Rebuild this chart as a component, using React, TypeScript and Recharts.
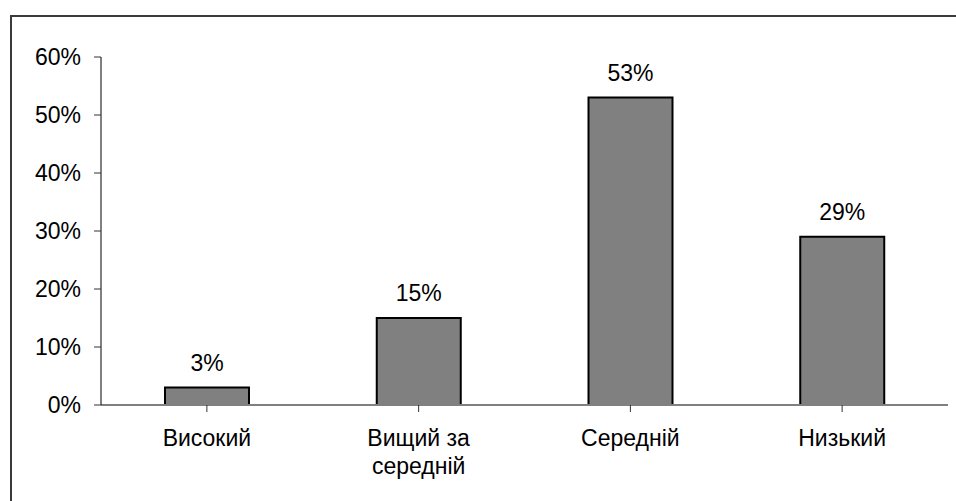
import React from 'react';
import { BarChart, Bar, XAxis, YAxis, LabelList } from 'recharts';

// Levels and their shares, in percent ("\n" marks where a label breaks)
const levels = ['Високий', 'Вищий за\nсередній', 'Середній', 'Низький'];
const shares = [3, 15, 53, 29];
const percentTicks = [0, 10, 20, 30, 40, 50, 60];

const data = levels.map((level, i) => ({ level, share: shares[i] }));

const FONT = '"Liberation Sans", Arial, sans-serif';
const pct = (v: number | string) => `${v}%`;

// Category label, one tspan per line
const CategoryTick = (props: any) => {
  const { x, y, payload } = props;
  const lines = String(payload.value).split('\n');
  return (
    <text
      x={x}
      y={y}
      textAnchor="middle"
      fontFamily={FONT}
      fontSize={23}
      fill="#000"
    >
      {lines.map((line, i) => (
        <tspan key={i} x={x} dy={i === 0 ? '0.71em' : 28}>
          {line}
        </tspan>
      ))}
    </text>
  );
};

export default function App() {
  return (
    <div
      style={{
        position: 'fixed',
        left: 0,
        top: 0,
        width: 956,
        height: 501,
        overflow: 'hidden',
        background: '#fff',
      }}
    >
      {/* chart-area frame: only its top and left edges fall inside the page */}
      <svg
        width={956}
        height={501}
        style={{ position: 'absolute', left: 0, top: 0 }}
      >
        <polyline
          points="11,501 11,16 956,16"
          fill="none"
          stroke="#3a3a3a"
          strokeWidth={2}
        />
      </svg>
      <div style={{ position: 'absolute', left: 0, top: 0 }}>
        <BarChart
          width={956}
          height={501}
          data={data}
          margin={{ top: 57, right: 8, bottom: 0, left: 0 }}
        >
          <XAxis
            dataKey="level"
            height={96}
            interval={0}
            tickSize={7}
            tickMargin={18}
            axisLine={{ stroke: '#808080', strokeWidth: 2 }}
            tickLine={{ stroke: '#333' }}
            tick={<CategoryTick />}
          />
          <YAxis
            width={101}
            domain={[0, 60]}
            ticks={percentTicks}
            interval={0}
            tickFormatter={pct}
            tickSize={7}
            tickMargin={13}
            axisLine={{ stroke: '#000', strokeWidth: 1 }}
            tickLine={{ stroke: '#333' }}
            tick={{ fontFamily: FONT, fontSize: 23, fill: '#000' }}
          />
          <Bar
            dataKey="share"
            barSize={84}
            fill="#808080"
            stroke="#000"
            strokeWidth={2}
            isAnimationActive={false}
          >
            <LabelList
              dataKey="share"
              position="top"
              offset={17}
              formatter={pct}
              fill="#000"
              fontFamily={FONT}
              fontSize={23}
            />
          </Bar>
        </BarChart>
      </div>
    </div>
  );
}
